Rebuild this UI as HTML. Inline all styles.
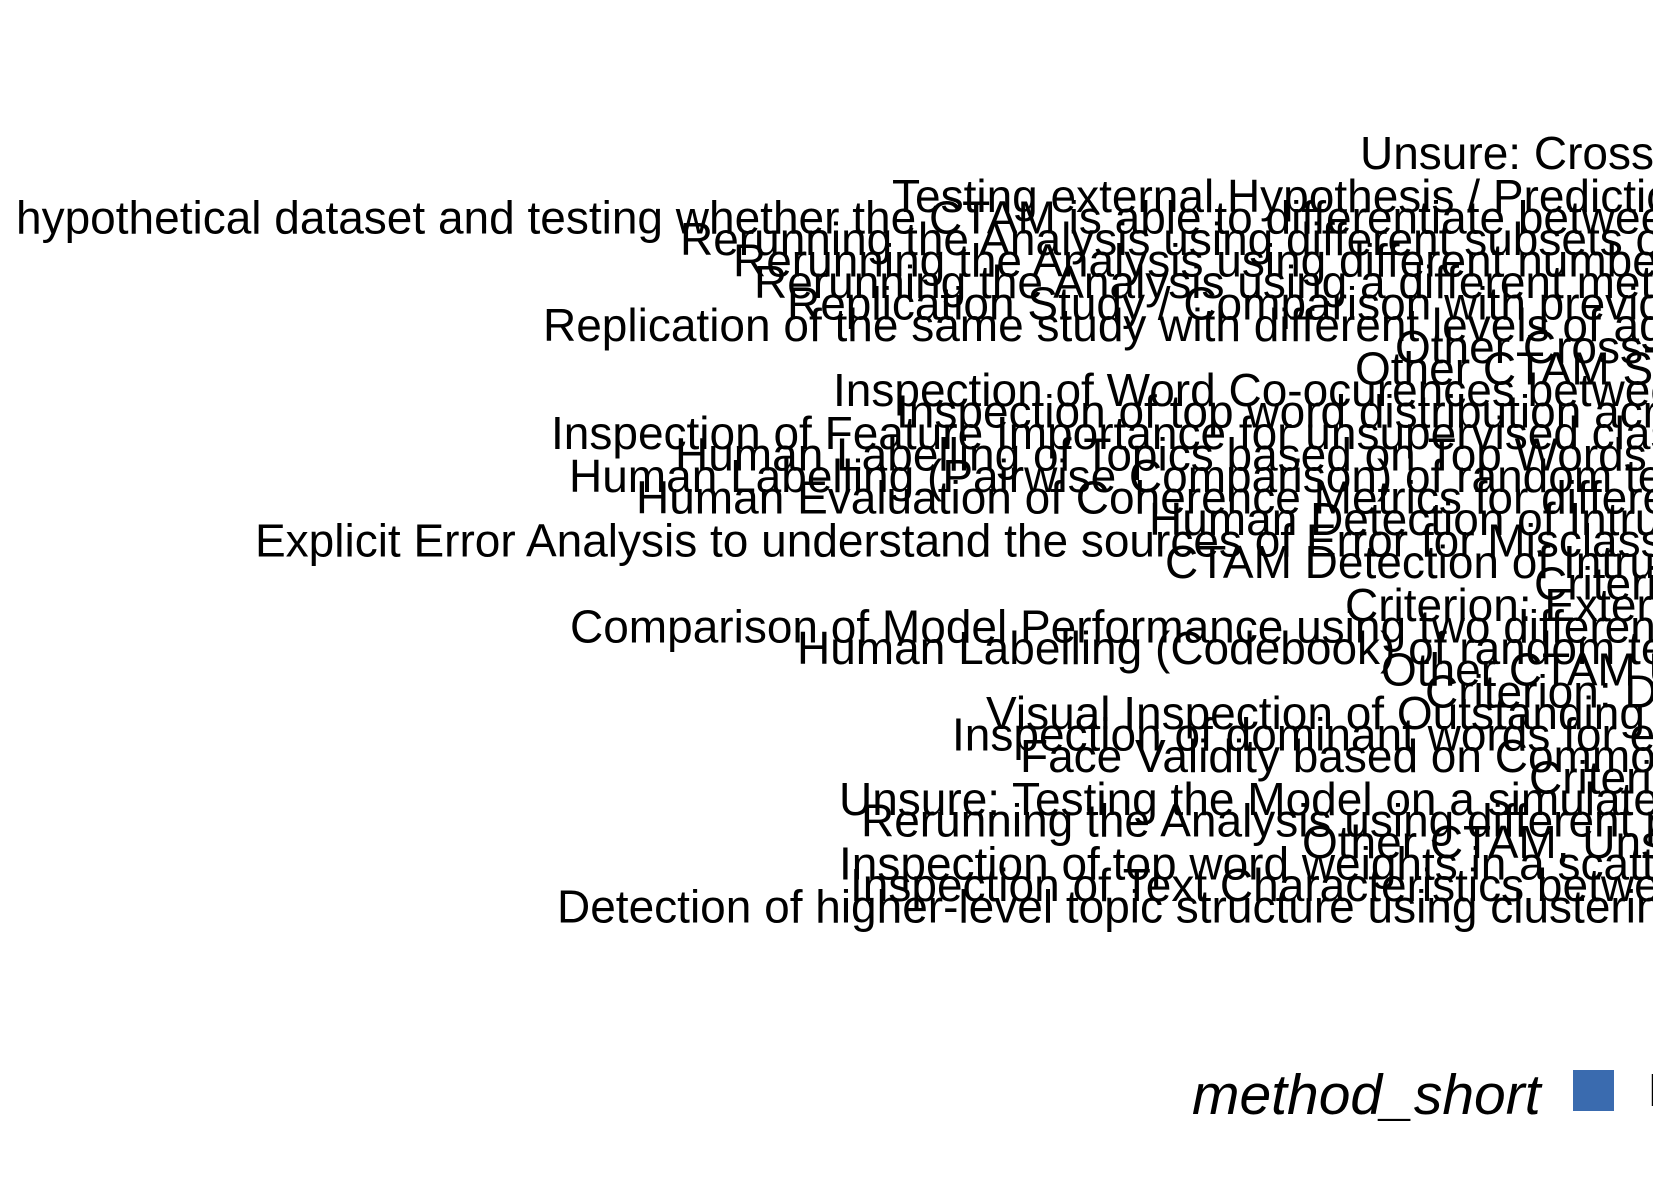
<!DOCTYPE html>
<html><head><meta charset="utf-8"><style>
html,body{margin:0;padding:0;background:#fff;}
svg{display:block;}
text{font-family:"Liberation Sans",sans-serif;fill:#000;}
</style></head>
<body>
<svg id="chart" width="1653" height="1181" viewBox="0 0 1653 1181" xmlns="http://www.w3.org/2000/svg">
<rect width="1653" height="1181" fill="#fff"/>
<g id="labels"></g>
<g>
<text x="1192" y="1114" font-size="57" font-style="italic">method_short</text>
<rect x="1573" y="1070" width="41" height="41" fill="#3a6baf"/>
<text x="1648" y="1106" font-size="46">Method</text>
</g>
</svg>
<script>
const categories = [
"Unsure: Cross-Validation of results",
"",
"Testing external Hypothesis / Predictions",
"hypothetical dataset and testing whether the CTAM is able to differentiate between groups",
"Rerunning the Analysis using different subsets of the data",
"Rerunning the Analysis using different number of topics",
"Rerunning the Analysis using a different method",
"Replication Study / Comparison with previous results",
"Replication of the same study with different levels of aggregation",
"Other Cross-Validation",
"Other CTAM Specific",
"Inspection of Word Co-ocurences between topics",
"Inspection of top word distribution across topics",
"Inspection of Feature Importance for unsupervised classification",
"Human Labelling of Topics based on Top Words",
"Human Labelling (Pairwise Comparison) of random texts",
"Human Evaluation of Coherence Metrics for different models",
"Human Detection of Intruders",
"Explicit Error Analysis to understand the sources of Error for Misclassification",
"CTAM Detection of Intruders",
"Criterion: Internal",
"Criterion: External",
"Comparison of Model Performance using two different models",
"Human Labelling (Codebook) of random texts",
"Other CTAM Unspecific",
"Criterion: Discriminant",
"Visual Inspection of Outstanding Topics",
"Inspection of dominant words for each topic",
"Face Validity based on Common Sense",
"Criterion: Predictive",
"Unsure: Testing the Model on a simulated dataset",
"Rerunning the Analysis using different parameters",
"Other CTAM, Unspecific",
"Inspection of top word weights in a scatterplot",
"Inspection of Text Characteristics between topics",
"Detection of higher-level topic structure using clustering"
];
const startX = [1360,0,892,16,680,733,754,787,543,1395,1355,833,896,551,675,569,636,1149,255,1165,1534,1345,570,797,1381,1425,986,952,1020,1529,839,861,1302,839,850,557];
const g = document.getElementById('labels');
const top0 = 169, step = 21.53;
categories.forEach((c,i)=>{
  if(!c) return;
  const t = document.createElementNS('http://www.w3.org/2000/svg','text');
  t.setAttribute('x', startX[i]);
  t.setAttribute('y', top0 + i*step);
  t.setAttribute('font-size', '46');
  t.textContent = c;
  
  
  g.appendChild(t);
});
</script>
</body></html>
